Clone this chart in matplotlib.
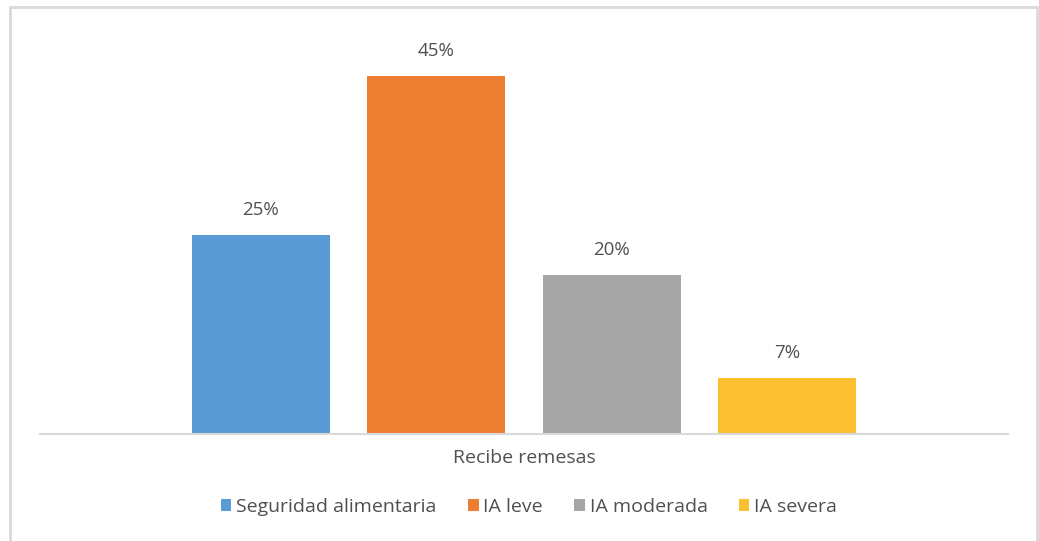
import matplotlib.pyplot as plt
from matplotlib.patches import Rectangle

plt.rcParams['font.family'] = ['Open Sans', 'DejaVu Sans']

category = 'Recibe remesas'
series = ['Seguridad alimentaria', 'IA leve', 'IA moderada', 'IA severa']
values = [25, 45, 20, 7]
colors = ['#5b9bd5', '#ed7d31', '#a5a5a5', '#fbbf2f']
txt = '#505050'

W, H = 1039, 541
fig = plt.figure(figsize=(W / 100, H / 100), dpi=100)

# outer chart frame
fig.patches.append(Rectangle((10 / W, -0.02), 1027 / W, 1 - 7 / H + 0.02,
                             transform=fig.transFigure, fill=False,
                             edgecolor='#d9d9d9', linewidth=2))

ax = fig.add_axes([40 / W, (H - 434) / H, 968 / W, (434 - 36) / H])
step = 175.5 / 968
width = 138 / 968
for i, (name, v, c) in enumerate(zip(series, values, colors)):
    x = (i - 1.5) * step
    ax.bar(x, v, width=width, color=c, label=name)
    ax.text(x, v + 2.0, f'{v}%', ha='center', va='bottom', fontsize=13.5, color=txt)

ax.set_xlim(-0.5, 0.5)
ax.set_ylim(0, 50)
ax.set_yticks([])
ax.set_xticks([0])
ax.set_xticklabels([category], fontsize=14, color=txt)
ax.tick_params(axis='x', length=0, pad=11)
for s in ['top', 'right', 'left']:
    ax.spines[s].set_visible(False)
ax.spines['bottom'].set_color('#d9d9d9')
ax.spines['bottom'].set_linewidth(1.5)

fig.legend(loc='center', bbox_to_anchor=(529 / W, 1 - 507 / H), ncol=4, frameon=False,
           fontsize=14, labelcolor=txt, handlelength=0.55, handleheight=0.55,
           handletextpad=0.25, columnspacing=1.6)

fig.savefig('out.png', dpi=100)
